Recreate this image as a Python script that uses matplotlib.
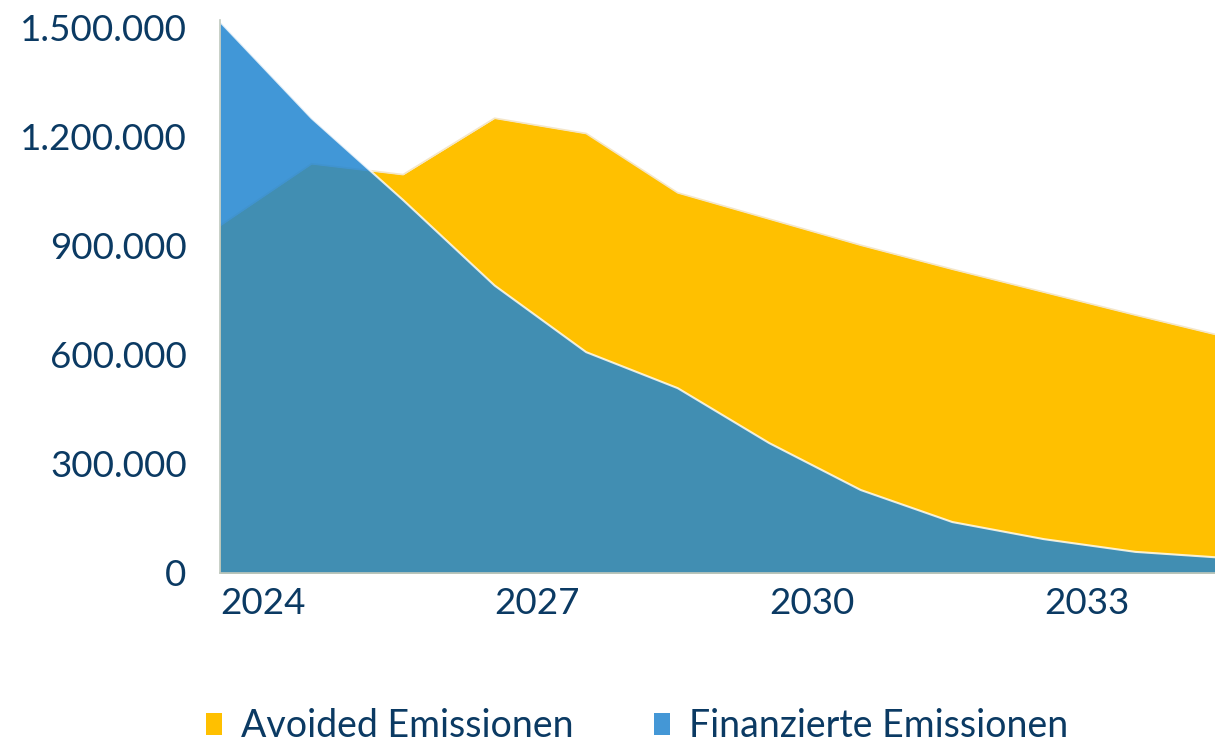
import matplotlib
matplotlib.use("Agg")
import matplotlib.pyplot as plt
import matplotlib.ticker as mticker
from matplotlib.patches import Patch

# values
years = [2024, 2025, 2026, 2027, 2028, 2029, 2030, 2031, 2032, 2033, 2034, 2035]
avoided = [955000, 1125000, 1095000, 1250000, 1208000, 1045000,
           973000, 901000, 835000, 772000, 709000, 648000]
financed = [1515000, 1250000, 1025000, 790000, 607000, 508000,
            357000, 228000, 140000, 93000, 58000, 41000]
tick_years = [2024, 2027, 2030, 2033]
y_ticks = [0, 300000, 600000, 900000, 1200000, 1500000]

text_col = "#0B3A63"
yellow = "#FFC000"
blue = "#2286D1"

plt.rcParams["font.family"] = ["Lato", "DejaVu Sans"]

fig = plt.figure(figsize=(12.15, 7.48), dpi=100)
ax = fig.add_axes([0.1811, 0.2340, 0.8189, 0.7393])

x = list(range(len(years)))
ax.fill_between(x, 0, avoided, color=yellow, lw=0, zorder=2)
ax.plot(x, avoided, color="#F4E6C8", lw=1.2, zorder=2.5)
ax.fill_between(x, 0, financed, color=blue, alpha=0.86, lw=0, zorder=3)
ax.plot(x, financed, color="white", alpha=0.8, lw=1.5, zorder=3.5)

ax.set_xlim(0, 10.87)
ax.set_ylim(0, 1520000)

ax.set_xticks([years.index(t) for t in tick_years])
ax.set_xticklabels([str(t) for t in tick_years])
plt.setp(ax.get_xticklabels(), ha="left")
ax.set_yticks(y_ticks)
ax.yaxis.set_major_formatter(mticker.FuncFormatter(lambda v, p: f"{int(v):,}".replace(",", ".")))
ax.tick_params(axis="both", length=0, labelsize=26.5, labelcolor=text_col)
ax.tick_params(axis="y", pad=24)
ax.tick_params(axis="x", pad=10)

for side in ["top", "right"]:
    ax.spines[side].set_visible(False)
for side in ["left", "bottom"]:
    ax.spines[side].set_color("#BFC8BE")
    ax.spines[side].set_linewidth(1.2)
    ax.spines[side].set_zorder(4)

handles = [Patch(facecolor=yellow, edgecolor="none", label="Avoided Emissionen"),
           Patch(facecolor="#4497D6", edgecolor="none", label="Finanzierte Emissionen")]
fig.legend(handles=handles, loc="center left", bbox_to_anchor=(0.142, 0.029), ncol=2,
           frameon=False, fontsize=27, labelcolor=text_col, handlelength=0.42,
           handleheight=0.55, handletextpad=0.5, columnspacing=2.15)

fig.savefig("out.png", dpi=100)
